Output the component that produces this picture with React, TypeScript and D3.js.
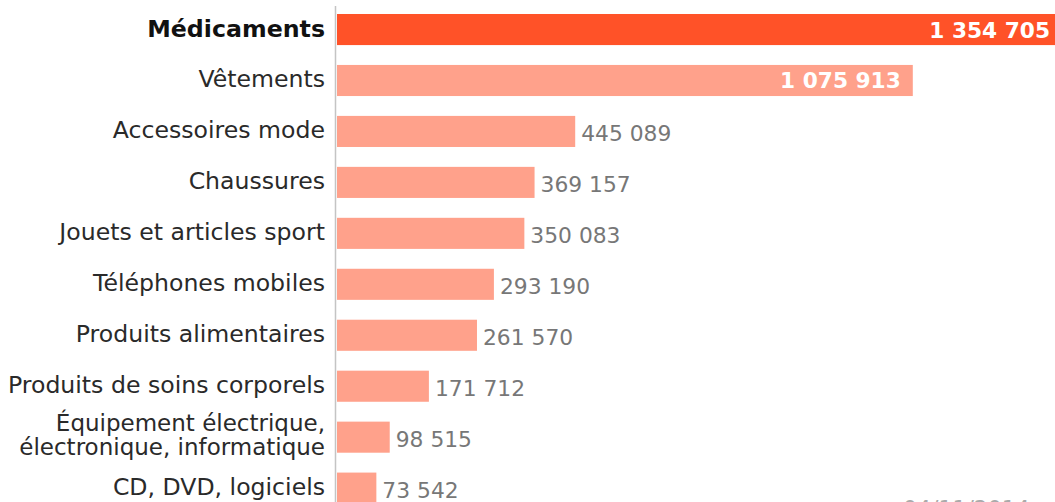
import React from "react";
import * as d3 from "d3";

const categories: string[][] = [
  ["Médicaments"],
  ["Vêtements"],
  ["Accessoires mode"],
  ["Chaussures"],
  ["Jouets et articles sport"],
  ["Téléphones mobiles"],
  ["Produits alimentaires"],
  ["Produits de soins corporels"],
  ["Équipement électrique,", "électronique, informatique"],
  ["CD, DVD, logiciels"],
];
const values: number[] = [1354705, 1075913, 445089, 369157, 350083, 293190, 261570, 171712, 98515, 73542];
const highlightIndex = 0;
const dateLabel = "04/11/2014";

const W = 1055;
const H = 502;

export default function App() {
  const keys = categories.map((c) => c.join(" "));
  const y = d3
    .scaleBand<string>()
    .domain(keys)
    .range([4.06, 513.6])
    .paddingInner(0.39)
    .paddingOuter(0.195);
  const x = d3.scaleLinear().domain([0, values[0]]).range([337, 1062]);
  const loc = d3.formatLocale({ thousands: "\u00a0", grouping: [3], decimal: ",", currency: ["", "€"] });
  const fmt = loc.format(",d");
  const bw = y.bandwidth();
  const font = "'DejaVu Sans', Verdana, sans-serif";

  return (
    <svg width={W} height={H} style={{ position: "absolute", left: 0, top: 0, background: "#fff" }} fontFamily={font}>
      {keys.map((k, i) => {
        const y0 = y(k)!;
        const cy = y0 + bw / 2;
        const x1 = x(values[i]);
        const inside = x1 - x(0) > 400;
        const lines = categories[i];
        const hi = i === highlightIndex;
        return (
          <g key={k}>
            <rect x={x(0)} y={y0} width={x1 - x(0)} height={bw} fill={hi ? "#ff5228" : "#ffa18b"} />
            {lines.length === 1 ? (
              <text
                x={325}
                y={cy + 7}
                textAnchor="end"
                fontSize={hi ? 23.7 : 23.6}
                fontWeight={hi ? "bold" : "normal"}
                fill={hi ? "#111" : "#2a2a2a"}
              >
                {lines[0]}
              </text>
            ) : (
              lines.map((l, j) => (
                <text
                  key={j}
                  x={325}
                  y={cy - 6 + j * 24}
                  textAnchor="end"
                  fontSize={23}
                  fill="#2a2a2a"
                >
                  {l}
                </text>
              ))
            )}
            {inside ? (
              <text x={x1 - 12} y={cy + 8} textAnchor="end" fontSize={21.7} fontWeight="bold" fill="#fff">
                {fmt(values[i])}
              </text>
            ) : (
              <text x={x1 + 6} y={cy + 10} textAnchor="start" fontSize={21.8} fill="#777">
                {fmt(values[i])}
              </text>
            )}
          </g>
        );
      })}
      <line x1={335.5} x2={335.5} y1={6} y2={H} stroke="#c4c4c4" strokeWidth={1.5} />
      <text x={903} y={516} fontSize={22} fill="#aaa">
        {dateLabel}
      </text>
    </svg>
  );
}
